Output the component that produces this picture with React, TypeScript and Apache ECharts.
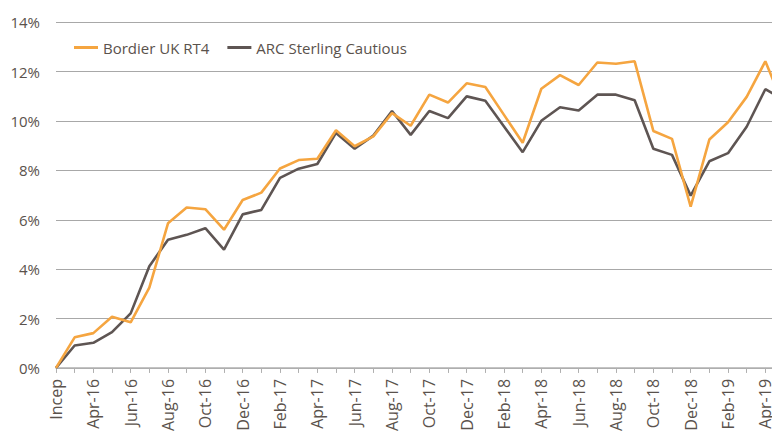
import React, { useEffect, useRef } from "react";
import * as echarts from "echarts";

const categories = [
  "Incep", "Mar-16", "Apr-16", "May-16", "Jun-16", "Jul-16", "Aug-16", "Sep-16", "Oct-16", "Nov-16",
  "Dec-16", "Jan-17", "Feb-17", "Mar-17", "Apr-17", "May-17", "Jun-17", "Jul-17", "Aug-17", "Sep-17",
  "Oct-17", "Nov-17", "Dec-17", "Jan-18", "Feb-18", "Mar-18", "Apr-18", "May-18", "Jun-18", "Jul-18",
  "Aug-18", "Sep-18", "Oct-18", "Nov-18", "Dec-18", "Jan-19", "Feb-19", "Mar-19", "Apr-19", "May-19",
];

const bordier = [
  0, 1.24, 1.41, 2.07, 1.85, 3.25, 5.86, 6.5, 6.43, 5.6,
  6.8, 7.1, 8.08, 8.42, 8.47, 9.63, 8.98, 9.38, 10.32, 9.81,
  11.07, 10.75, 11.53, 11.38, 10.25, 9.12, 11.31, 11.86, 11.46, 12.37,
  12.32, 12.42, 9.6, 9.28, 6.53, 9.25, 9.95, 10.98, 12.42, 10.6,
];

const arc = [
  0, 0.91, 1.02, 1.45, 2.21, 4.12, 5.19, 5.39, 5.66, 4.79,
  6.22, 6.4, 7.7, 8.07, 8.26, 9.52, 8.88, 9.41, 10.41, 9.44,
  10.41, 10.12, 11.0, 10.82, 9.78, 8.74, 10.01, 10.56, 10.43, 11.07,
  11.07, 10.84, 8.88, 8.63, 6.98, 8.37, 8.7, 9.77, 11.29, 10.86,
];

const yTicks = { min: 0, max: 14, interval: 2 };

const FONT = "'Open Sans', sans-serif";
const TEXT = "#5a524c";

export default function App() {
  const ref = useRef<HTMLDivElement>(null);
  useEffect(() => {
    if (!ref.current) return;
    const chart = echarts.init(ref.current, undefined, { renderer: "svg" });
    chart.setOption({
      animation: false,
      textStyle: { fontFamily: FONT, color: TEXT },
      legend: {
        left: 69,
        top: 35,
        itemWidth: 24,
        itemHeight: 3,
        itemGap: 18,
        icon: "rect",
        textStyle: { fontFamily: FONT, fontSize: 15, color: TEXT },
        data: ["Bordier UK RT4", "ARC Sterling Cautious"],
      },
      grid: { left: 56, right: 0, top: 22.3, height: 348.7, containLabel: false },
      xAxis: {
        type: "category",
        data: categories,
        boundaryGap: false,
        axisLine: { lineStyle: { color: "#b0b0b0", width: 1.5 } },
        axisTick: { show: true, interval: 0, length: 5, lineStyle: { color: "#b0b0b0" } },
        axisLabel: {
          interval: 1,
          rotate: 90,
          fontSize: 16,
          color: TEXT,
          fontFamily: FONT,
          margin: 11,
        },
        splitLine: { show: false },
      },
      yAxis: {
        type: "value",
        min: yTicks.min,
        max: yTicks.max,
        interval: yTicks.interval,
        axisLine: { show: false },
        axisTick: { show: false },
        axisLabel: { formatter: "{value}%", fontSize: 15, color: TEXT, fontFamily: FONT, margin: 16 },
        splitLine: { lineStyle: { color: "#a8a8a8", width: 1.2 } },
      },
      series: [
        {
          name: "Bordier UK RT4",
          type: "line",
          data: bordier,
          symbol: "none",
          lineStyle: { color: "#f5a540", width: 2.6 },
          itemStyle: { color: "#f5a540" },
          z: 3,
        },
        {
          name: "ARC Sterling Cautious",
          type: "line",
          data: arc,
          symbol: "none",
          lineStyle: { color: "#5e5553", width: 2.6 },
          itemStyle: { color: "#5e5553" },
          z: 2,
        },
      ],
    });
    return () => chart.dispose();
  }, []);
  return (
    <div
      style={{ position: "fixed", left: 0, top: 0, width: 772, height: 434, overflow: "hidden", background: "#fff" }}
    >
      <div ref={ref} style={{ width: 784, height: 434 }} />
    </div>
  );
}
